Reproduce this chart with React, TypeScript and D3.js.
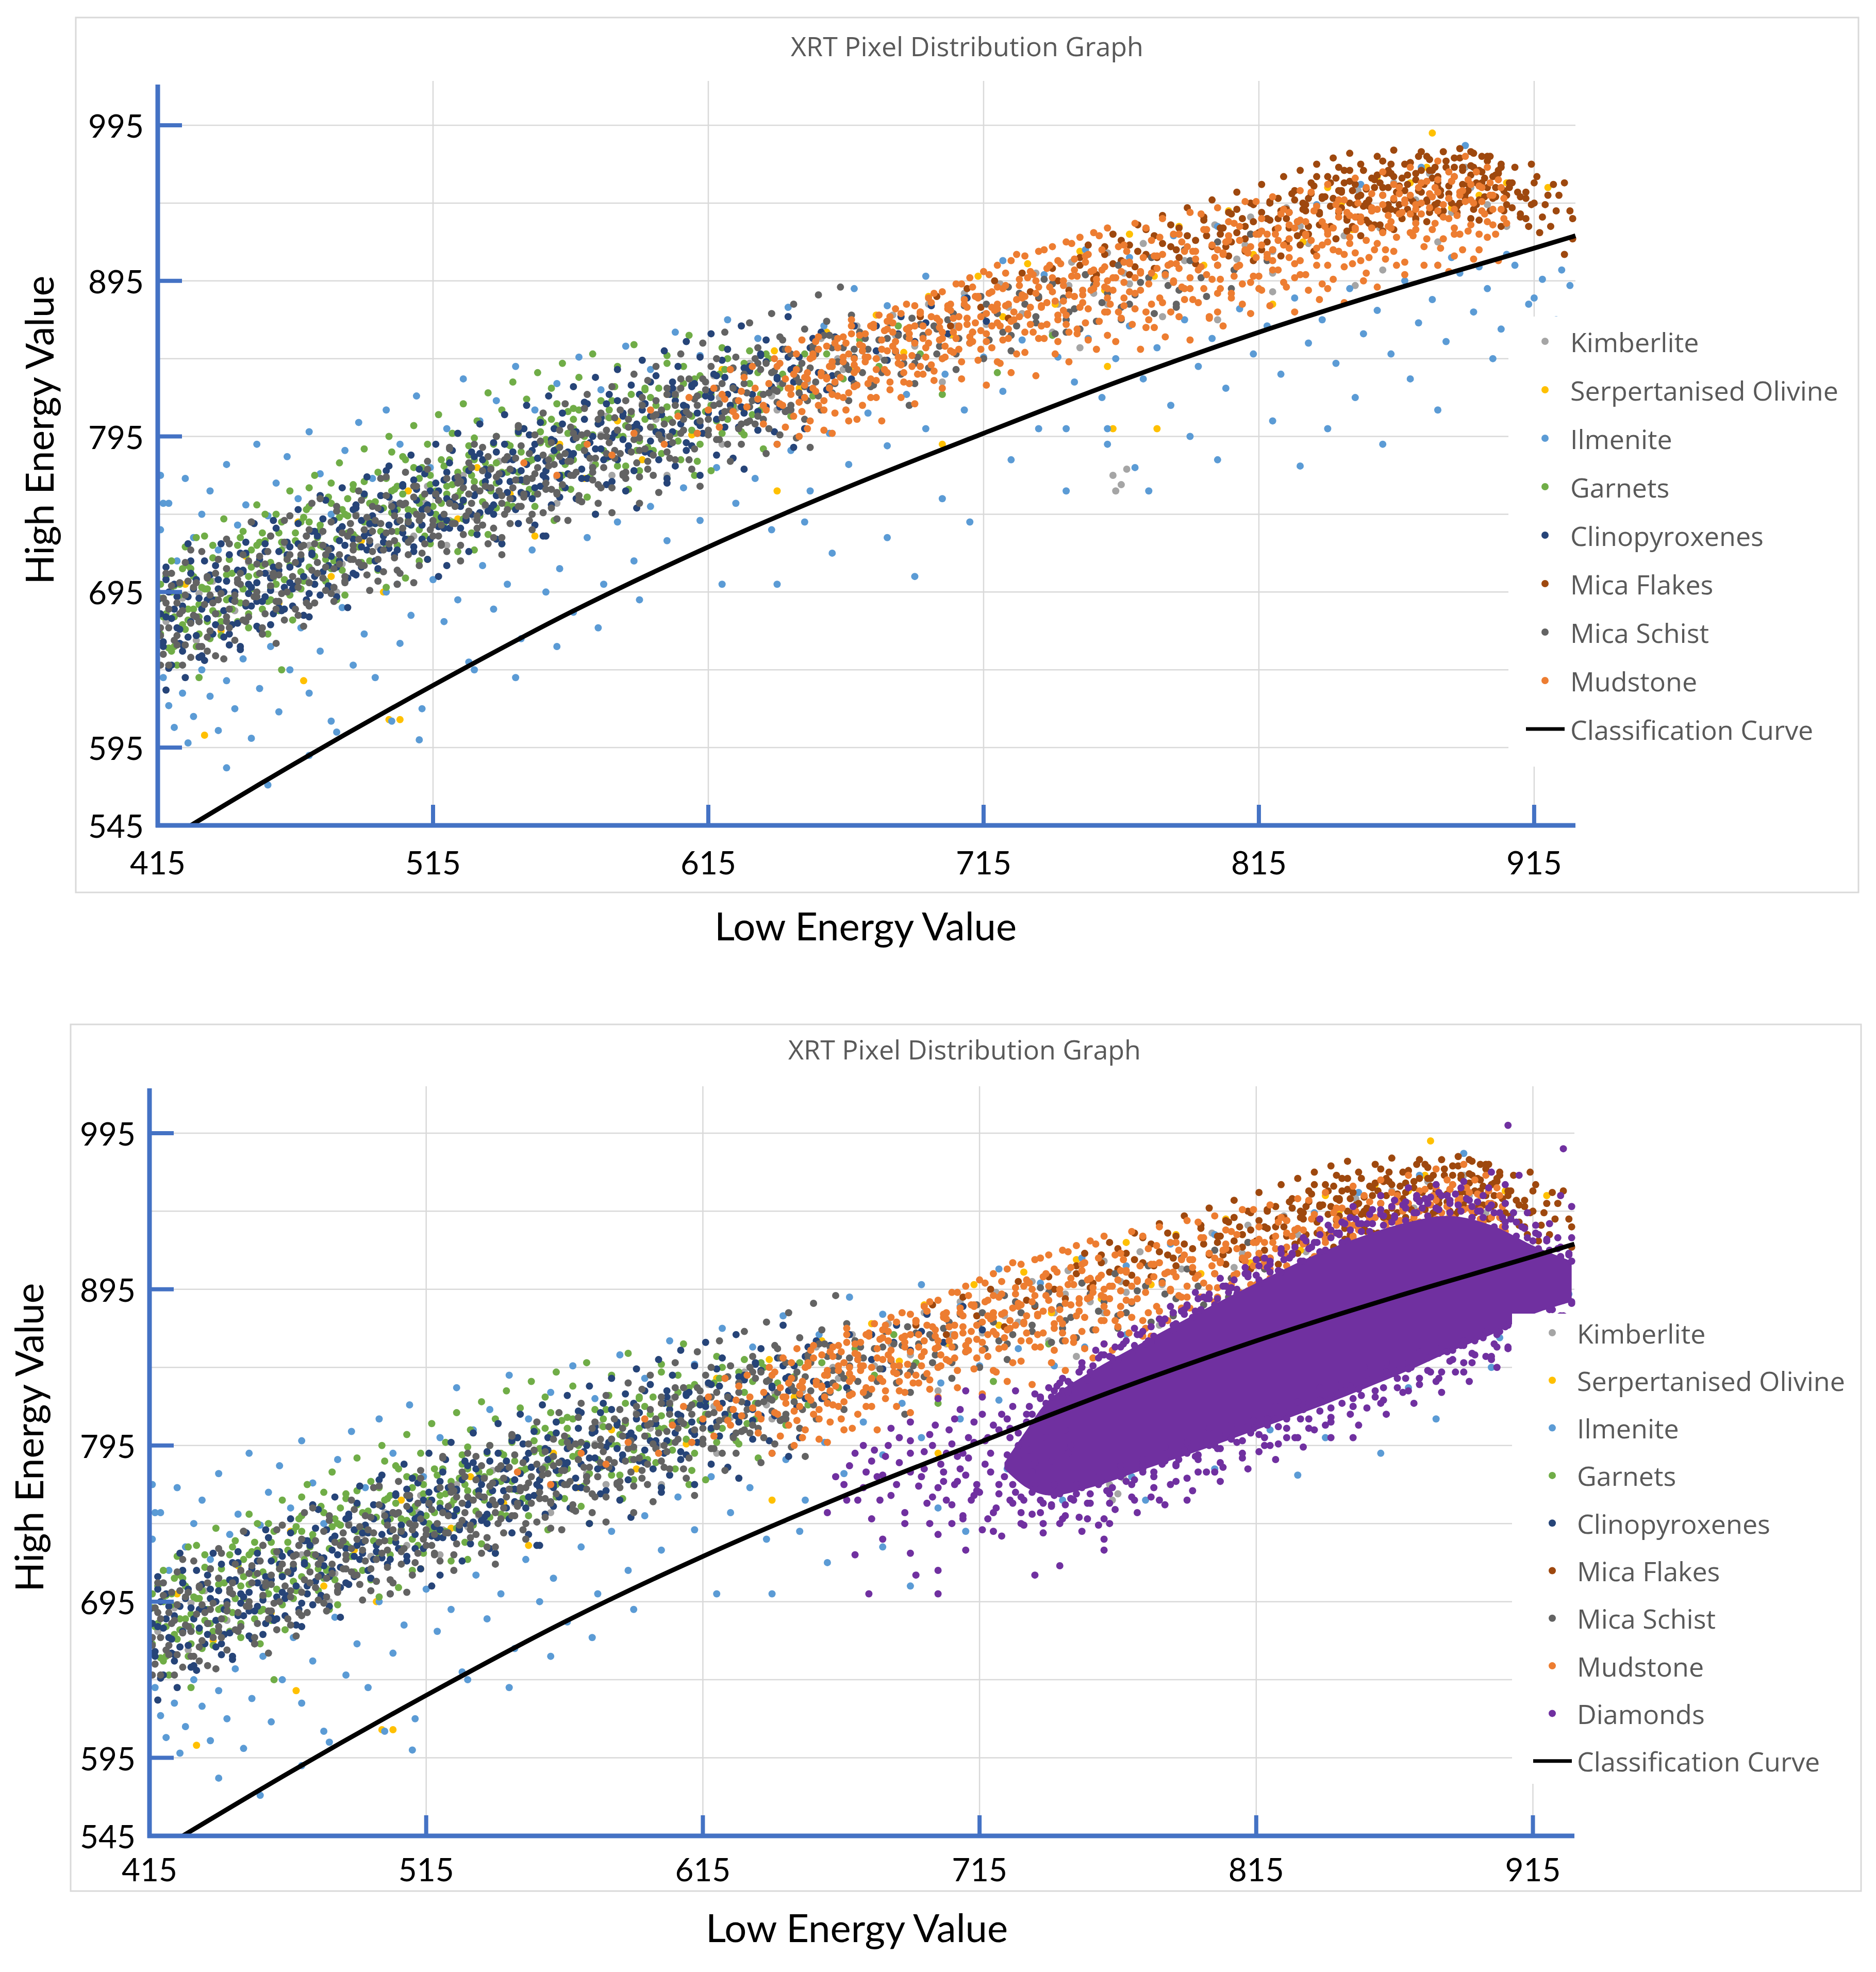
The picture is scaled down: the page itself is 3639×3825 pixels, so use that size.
import * as d3 from "d3";

// Axis ticks and gridlines
const X_TICKS = [415, 515, 615, 715, 815, 915];
const Y_TICKS = [545, 595, 695, 795, 895, 995];
const X_GRID = [515, 615, 715, 815, 915];
const Y_GRID = [595, 645, 695, 745, 795, 845, 895, 945, 995];

// Classification curve
const CURVE_X = [427, 465, 515, 565, 615, 665, 715, 765, 815, 865, 915, 930];
const CURVE_Y = [545, 585, 635, 682, 724, 762, 797, 831, 862, 890, 916, 924];

// Scatter series, flat [low, high, low, high, ...]
const KIMBERLITE = [
  418,676, 424,691, 429,664, 435,702, 443,683, 448,714, 456,690, 461,725, 469,703, 474,733, 482,713, 487,745, 495,724, 500,752,
  508,731, 513,763, 521,741, 526,770, 534,750, 539,779, 547,758, 552,790, 560,769, 565,798, 573,777, 578,808, 586,786, 591,816,
  599,795, 604,825, 612,804, 617,834, 625,813, 630,842, 638,821, 643,851, 651,830, 656,858, 664,838, 669,866, 677,846, 682,873,
  690,853, 695,880, 703,860, 708,887, 716,867, 721,893, 729,874, 734,900, 742,880, 747,907, 755,887, 760,913, 768,893, 773,919,
  781,898, 786,925, 794,904, 799,931, 807,909, 812,936, 820,914, 825,942, 833,919, 838,948, 846,924, 851,953, 859,929, 864,958,
  872,934, 877,964, 885,939, 890,968, 898,944, 762,770, 765,764, 767,774, 763,760, 600,770, 650,800, 700,830, 750,852, 800,870,
  850,892, 880,905, 560,752, 520,725, 480,695, 700,845, 740,862, 780,872, 820,888, 860,902, 620,790,
  430,694, 455,707, 470,725, 492,738, 512,752, 530,743, 558,782, 576,796, 596,806, 619,820, 641,829, 662,845, 683,860, 705,866,
  724,878, 746,892, 766,900, 788,908, 810,918, 830,930, 852,936, 872,947, 892,955, 905,930, 640,812, 700,858, 760,880, 820,900,
  880,920, 580,770,
];

const OLIVINE = [
  425,700, 438,670, 447,718, 459,688, 466,740, 478,705, 489,728, 497,695, 506,760, 513,716, 524,742, 531,775, 543,758, 552,731,
  561,790, 570,768, 582,805, 591,780, 600,822, 609,796, 620,838, 628,812, 639,850, 648,826, 658,862, 667,838, 676,873, 686,849,
  695,885, 704,860, 713,898, 722,872, 731,906, 741,880, 750,914, 759,889, 768,925, 777,898, 786,930, 795,905, 804,940, 813,912,
  822,948, 831,920, 840,955, 849,928, 858,962, 867,935, 876,968, 885,942, 878,990, 895,950, 905,958, 920,955, 499,613, 503,613,
  468,638, 432,603, 762,800, 778,800, 640,760, 700,790, 820,880, 760,840, 810,930, 845,945, 870,958,
];

const ILMENITE = [
  416,735, 416,770, 417,752, 419,752, 422,715, 425,768, 428,730, 431,745, 434,760, 437,722, 440,777, 444,738, 447,751, 451,790,
  455,744, 458,765, 462,782, 466,755, 470,798, 474,771, 478,745, 483,786, 488,804, 493,768, 498,812, 503,790, 509,821, 514,775,
  520,800, 526,832, 532,805, 538,818, 545,840, 552,812, 560,829, 568,846, 576,825, 585,853, 594,838, 603,862, 612,847, 622,870,
  633,858, 644,878, 657,866, 668,890, 680,879, 694,898, 708,884, 722,908, 737,899, 752,915, 768,910, 784,924, 800,930, 818,935,
  836,944, 852,957, 874,968, 890,982,
  417,640, 419,622, 421,608, 424,630, 426,598, 428,615, 431,645, 434,628, 437,606, 440,638, 443,620, 446,652, 449,601, 452,633,
  456,660, 459,618, 463,645, 467,672, 470,630, 474,657, 478,612, 482,685, 486,648, 490,668, 494,640, 498,695, 503,662, 507,680,
  511,620, 515,703, 519,676, 524,690, 528,650, 533,712, 537,684, 542,700, 547,665, 551,722, 556,695, 561,710, 566,682, 571,730,
  577,700, 582,740, 588,715, 594,750, 600,728, 606,762, 612,741, 618,775, 625,752, 632,768, 638,735, 645,786, 652,760, 659,797,
  666,777, 673,810, 680,789, 687,822, 694,800, 701,835, 708,812, 715,846, 722,824, 729,857,
  500,612, 470,590, 440,582, 455,571, 530,645, 560,660, 590,690, 620,700, 575,672, 650,740, 680,730, 700,755, 725,780, 745,760,
  660,720, 690,705, 710,740, 735,800, 760,790, 640,700, 545,640, 510,600, 480,605,
  742,846, 748,830, 753,858, 758,820, 763,845, 768,866, 773,832, 778,852, 783,815, 788,870, 793,840, 798,858, 803,826, 808,877,
  813,848, 818,866, 823,835, 828,884, 833,855, 838,870, 843,842, 848,890, 853,861, 858,876, 863,848, 868,895, 873,868, 878,883,
  883,856, 888,900, 893,875, 898,890, 903,864, 908,905, 913,880, 918,896, 923,870, 928,892, 905,912, 915,884, 925,902, 895,904,
  885,910, 760,800, 790,795, 820,805, 850,820, 870,832, 880,812, 840,800, 800,780, 770,775, 860,790, 900,845, 920,857, 830,776,
  775,760, 745,800,
];

const GARNETS = [
  416,668, 417,691, 418,705, 420,657, 421,679, 423,700, 425,671, 426,712, 428,684, 429,660, 431,698, 433,676, 435,717, 436,690,
  438,667, 440,706, 442,684, 444,725, 446,697, 448,681, 449,722, 451,706, 453,733, 455,689, 456,714, 458,700, 460,740, 462,718,
  463,693, 465,728, 467,708, 469,748, 471,722, 472,700, 474,735, 476,716, 478,752, 480,729, 482,709, 484,744, 486,761, 488,724,
  490,740, 492,715, 494,753, 496,734, 498,768, 500,746, 502,725, 504,758, 506,739, 508,775, 510,752, 512,731, 514,764, 516,745,
  518,780, 520,758, 522,740, 524,772, 526,753, 528,789, 530,766, 532,744, 534,778, 536,760, 538,795, 540,772, 542,751, 544,785,
  546,767, 548,800, 550,779, 552,758, 554,791, 556,773, 558,806, 560,784, 562,762, 564,797, 566,780, 568,812, 570,790, 572,769,
  575,803, 577,786, 580,818, 582,796, 585,776, 587,809, 590,792, 592,825, 595,801, 598,784, 600,814, 603,797, 606,829, 609,808,
  612,790, 615,822, 618,805, 621,838, 624,815, 627,798, 630,829, 634,812, 637,845, 641,826, 645,808, 648,839, 653,821, 658,848,
  664,832, 670,857, 677,840, 684,866, 692,848, 430,640, 455,668, 480,690, 505,704, 530,722, 460,645, 610,770, 700,822, 740,860,
  720,836, 470,762, 500,785, 560,816, 600,842,
  417,679, 420,695, 424,674, 427,710, 430,687, 434,702, 437,681, 441,716, 445,688, 448,705, 452,727, 456,698, 459,733, 463,712,
  467,697, 470,740, 474,725, 478,710, 482,748, 486,732, 490,757, 494,739, 498,725, 502,763, 506,748, 510,735, 514,770, 518,752,
  522,764, 526,742, 530,780, 534,763, 538,749, 542,790, 546,772, 550,761, 554,798, 558,781, 562,770, 566,806, 570,786, 574,777,
  579,812, 584,795, 589,786, 594,820, 599,806, 604,792, 610,832, 616,815, 622,806, 628,842, 634,822, 642,835, 650,848, 660,840,
  416,700, 418,681, 420,715, 421,660, 423,693, 425,724, 426,677, 428,705, 430,668, 432,731, 433,697, 435,683, 437,716, 439,742,
  440,690, 442,707, 444,676, 446,734, 447,719, 449,697, 451,751, 453,712, 454,728, 456,690, 458,745, 460,722, 461,703, 463,760,
  465,733, 467,717, 468,743, 470,711, 472,770, 474,738, 475,724, 477,756, 479,716, 481,778, 483,745, 484,733, 486,764, 488,724,
  490,787, 492,752, 493,741, 495,772, 497,733, 499,795, 501,761, 502,748, 504,782, 506,741, 508,802, 510,768, 511,756, 513,790,
  515,750, 517,809, 519,776, 520,763, 522,797, 524,757, 526,816, 528,783, 529,770, 531,805, 533,765, 535,823, 537,790, 538,778,
  540,812, 542,772, 544,830, 546,797, 547,785, 549,819, 551,780, 553,836, 555,804, 556,793, 558,826, 560,787, 562,842, 564,811,
  566,800, 568,833, 570,795, 573,848, 576,818, 579,807, 582,840, 585,802, 588,854, 592,826, 596,815, 600,847, 604,810, 608,860,
  612,834, 616,822, 620,852,
  416,691, 419,659, 421,699, 422,648, 424,710, 426,684, 429,730, 430,679, 432,697, 434,665, 435,725, 438,676, 440,710, 441,691,
  443,690, 445,730, 448,672, 449,711, 451,725, 453,684, 454,745, 457,704, 459,683, 460,727, 462,716, 464,677, 467,740, 468,702,
  470,750, 472,718, 473,730, 476,702, 478,765, 479,715, 481,743, 483,693, 484,755, 487,730, 489,714, 490,766, 492,741, 495,709,
  497,749, 498,698, 500,760, 502,734, 505,780, 506,729, 508,747, 510,715, 511,775, 514,726, 516,760, 517,741, 519,739, 521,780,
  524,721, 525,760, 527,774, 529,733, 530,794, 533,753, 535,732, 536,775, 538,765, 540,726, 543,789, 544,750, 546,799, 548,766,
  549,779, 552,750, 554,806, 555,763, 557,790, 559,741, 560,802, 563,777, 565,761, 566,813, 568,788, 571,756, 573,796, 574,745,
  576,807, 578,781, 581,827, 582,776, 584,794, 586,761, 587,822, 590,773, 592,806, 593,788, 595,786, 597,826, 600,768, 601,806,
  603,821, 605,780, 606,840, 609,799, 611,779, 612,822, 614,811, 616,773, 619,835, 620,797, 622,845, 624,812, 625,825, 628,796,
  630,850, 631,809, 633,836, 635,787, 636,848,
];

const CLINOPYROXENES = [
  416,681, 417,660, 419,695, 420,648, 422,672, 424,686, 425,640, 426,666, 428,697, 430,676, 431,654, 433,690, 435,668, 437,703,
  439,683, 441,661, 443,695, 446,709, 447,686, 449,698, 451,673, 452,716, 454,692, 456,704, 457,681, 459,721, 461,698, 463,711,
  464,686, 466,726, 468,705, 470,694, 471,719, 473,731, 475,708, 477,698, 478,723, 480,711, 482,737, 484,717, 486,729, 487,706,
  489,741, 491,722, 492,733, 494,715, 496,748, 497,727, 499,738, 501,719, 503,752, 504,733, 506,744, 508,724, 509,761, 511,738,
  513,751, 514,729, 516,765, 518,743, 520,755, 521,736, 523,768, 525,750, 527,741, 528,773, 530,757, 532,746, 533,780, 535,762,
  537,751, 538,729, 540,771, 542,759, 544,785, 545,748, 547,767, 549,777, 551,755, 552,790, 554,763, 556,773, 558,751, 559,786,
  561,770, 563,762, 565,781, 567,797, 569,768, 571,783, 573,775, 575,803, 576,787, 578,764, 580,794, 582,780, 584,808, 586,789,
  588,773, 590,800, 592,816, 594,784, 596,798, 598,809, 601,790, 603,818, 605,803, 607,786, 609,827, 611,810, 613,797, 616,820,
  618,806, 621,833, 623,815, 626,801, 628,839, 631,822, 633,811, 636,843, 638,826, 641,814, 644,846, 646,830, 649,820, 652,852,
  655,836, 658,825, 661,859, 664,843, 667,832, 671,850, 676,866, 680,844, 685,872, 690,856, 696,879, 702,861, 709,884, 716,869,
  418,632, 445,660, 470,679, 520,712, 555,731, 600,768, 650,800,
  415,670, 418,703, 421,684, 424,661, 427,707, 430,691, 433,678, 436,712, 439,695, 442,674, 445,720, 448,700, 451,689, 454,726,
  457,711, 460,683, 463,724, 466,713, 469,731, 472,700, 475,742, 478,718, 481,728, 484,704, 487,749, 490,731, 493,744, 496,722,
  499,756, 502,740, 505,729, 508,767, 511,748, 514,760, 517,737, 520,772, 523,751, 526,766, 529,745, 532,784, 535,770, 538,757,
  541,790, 544,773, 547,759, 550,796, 553,781, 556,768, 559,800, 562,779, 566,793, 570,806, 574,787, 578,816, 582,799, 586,786,
  590,822, 594,808, 598,795, 602,830, 607,814, 612,802, 617,835, 622,822, 628,810, 634,848, 640,832, 646,839, 653,858, 660,834,
  668,866, 676,850, 684,861, 694,868,
  415,690, 416,662, 418,679, 419,646, 421,700, 423,671, 424,657, 426,692, 427,715, 429,667, 431,684, 432,651, 434,706, 436,681,
  437,697, 439,666, 441,719, 442,690, 444,675, 446,708, 447,727, 449,686, 451,701, 452,671, 454,721, 456,696, 457,741, 459,709,
  461,684, 462,727, 464,697, 466,748, 467,716, 469,690, 471,734, 472,705, 474,757, 476,724, 477,699, 479,741, 481,715, 482,762,
  484,731, 486,707, 487,751, 489,724, 491,769, 492,739, 494,715, 496,757, 497,731, 499,776, 501,747, 502,722, 504,764, 506,739,
  507,783, 509,754, 511,729, 512,771, 514,746, 516,790, 517,760, 519,736, 521,778, 522,753, 524,797, 526,767, 527,742, 529,785,
  531,760, 532,803, 534,774, 536,749, 537,791, 539,766, 541,809, 542,780, 544,755, 546,798, 547,773, 549,815, 551,786, 552,762,
  554,804, 556,779, 557,821, 559,792, 561,768, 562,810, 564,785, 566,827, 567,798, 569,774, 571,816, 572,791, 574,833, 576,804,
  577,780, 579,822, 581,797, 582,838, 584,810, 586,786, 587,828, 589,803, 591,844, 592,816, 594,792, 596,834, 597,809, 599,850,
  601,822, 602,798, 604,840, 606,815, 607,856, 609,828, 611,804, 612,846, 614,821, 616,861, 618,834, 620,810, 622,851, 624,827,
  627,866, 630,840, 633,818, 636,857, 640,833, 644,872, 648,846, 652,825, 656,862,
  417,663, 418,711, 420,678, 422,692, 423,662, 426,726, 427,676, 429,703, 430,653, 432,715, 435,690, 436,674, 438,726, 440,702,
  441,668, 444,709, 445,658, 447,720, 448,694, 450,739, 453,689, 454,707, 456,674, 458,736, 459,685, 462,719, 463,701, 465,699,
  466,739, 468,680, 471,720, 472,734, 474,693, 476,754, 477,712, 480,692, 481,735, 483,725, 484,685, 486,748, 489,711, 490,758,
  492,726, 494,739, 495,710, 498,773, 499,723, 501,751, 502,700, 504,763, 507,738, 508,721, 510,774, 512,749, 513,716, 516,757,
  517,705, 519,767, 520,741, 522,786, 525,736, 526,754, 528,721, 530,782, 531,732, 534,766, 535,747, 537,745, 538,785, 540,726,
  543,766, 544,780, 546,739, 548,800, 549,758, 552,738, 553,781, 555,770, 556,731, 558,793, 561,756, 562,803, 564,771, 566,784,
  567,755, 570,817, 571,768, 573,795, 574,745, 576,807, 579,782, 580,766, 582,818, 584,793, 585,760, 588,801, 589,749, 591,812,
  592,785, 594,830, 597,780, 598,798, 600,765, 602,826, 603,776, 606,810, 607,791, 609,789, 610,829, 612,770, 615,810, 616,824,
  618,783, 620,844, 621,801, 624,781, 625,825, 627,814, 628,774, 630,837, 633,799, 634,847, 636,814, 638,827, 639,798, 642,851,
  643,811, 645,838, 646,788,
];

const MICA_FLAKES = [
  692,872, 698,885, 703,866, 709,890, 714,878, 719,895, 724,871, 729,900, 735,884, 740,903, 746,889, 750,910, 755,896, 759,917,
  762,906, 765,921, 768,899, 771,914, 774,928, 777,903, 780,919, 783,931, 786,910, 789,924, 792,906, 795,936, 798,917, 801,929,
  804,911, 807,941, 810,922, 813,933, 816,915, 819,945, 821,928, 823,940, 825,919, 827,951, 829,933, 831,945, 833,925, 835,956,
  837,938, 839,949, 841,930, 843,961, 845,942, 847,927, 849,953, 851,936, 853,966, 855,947, 857,931, 859,958, 861,941, 863,970,
  865,952, 867,935, 869,963, 871,946, 873,975, 875,957, 877,939, 879,968, 881,950, 883,972, 885,959, 887,943, 889,966, 891,953,
  893,977, 895,947, 897,961, 899,940, 901,955, 903,968, 905,944, 907,958, 842,948, 846,958, 850,944, 854,934, 858,963, 862,955,
  866,944, 870,971, 874,952, 878,961, 882,940, 886,968, 890,948, 894,958, 898,972, 852,950, 860,927, 868,953, 876,933, 884,951,
  892,935, 900,962, 848,966, 872,964, 888,974, 856,940, 864,962, 880,945, 910,949, 912,935, 915,958, 917,926, 919,944, 921,930,
  924,950, 926,912, 928,940, 929,922, 922,957, 914,970, 825,935, 829,924, 833,948, 837,931, 841,943, 845,952, 849,930, 853,943,
  857,955, 861,964, 865,940, 869,957, 873,944, 877,966, 881,953, 885,945, 889,957, 893,968, 897,949, 901,963, 836,962, 844,968,
  860,972, 876,975, 892,963, 904,953, 832,940, 848,945, 864,947, 880,958, 896,965, 812,925, 818,935, 805,920, 796,924, 785,915,
  778,910, 770,904, 742,895, 732,888,
  750,905, 753,918, 756,899, 759,912, 762,925, 765,908, 768,918, 771,931, 774,912, 777,924, 780,937, 783,917, 786,929, 789,942,
  792,921, 795,934, 798,947, 801,925, 804,939, 807,952, 810,930, 813,944, 816,957, 819,934, 822,948, 824,962, 826,939, 828,953,
  830,966, 832,944, 834,958, 836,970, 838,949, 840,962, 842,974, 844,953, 846,966, 848,977, 850,957, 852,970, 854,945, 856,961,
  858,975, 860,950, 862,966, 864,979, 866,956, 868,970, 870,948, 872,960, 874,978, 876,946, 878,966, 880,955, 882,978, 884,948,
  886,962, 888,980, 890,951, 892,969, 894,944, 896,958, 898,975, 900,948, 902,964, 904,940, 906,955, 908,968, 910,938, 912,952,
  914,944, 916,962, 918,936, 920,950, 923,940, 926,958, 929,935, 831,926, 847,936, 863,941, 879,944, 895,934, 839,930, 855,932,
  871,938, 887,939, 903,930,
  800,905, 802,929, 803,917, 805,938, 806,902, 807,926, 809,935, 810,914, 812,945, 813,908, 815,926, 816,939, 818,920, 819,946,
  820,915, 822,935, 823,911, 825,941, 826,929, 828,947, 830,918, 831,941, 833,930, 834,951, 835,914, 837,939, 838,948, 840,928,
  841,958, 843,922, 844,939, 845,953, 847,934, 848,959, 849,929, 851,949, 852,924, 854,954, 855,943, 857,960, 859,931, 860,955,
  862,944, 863,964, 864,928, 866,953, 867,961, 869,941, 870,971, 872,935, 873,953, 874,966, 876,947, 877,973, 878,942, 880,962,
  881,938, 883,968, 884,956, 886,974, 888,945, 889,968, 891,957, 892,978, 893,941, 895,966, 896,975, 898,955, 899,975, 901,949,
  902,966, 903,970, 905,950, 906,958, 907,942, 909,952, 910,936, 912,948, 913,930, 915,945,
];

const MICA_SCHIST = [
  416,672, 418,688, 417,655, 420,699, 421,664, 423,681, 425,693, 424,648, 427,675, 429,701, 430,660, 432,687, 434,670, 433,705,
  436,681, 438,694, 439,652, 441,672, 440,710, 443,689, 445,700, 447,676, 448,715, 450,692, 452,707, 453,668, 455,721, 456,699,
  458,684, 459,712, 461,727, 462,695, 464,705, 466,680, 467,719, 469,731, 470,701, 472,688, 473,714, 475,725, 476,696, 478,740,
  479,710, 481,719, 483,705, 484,731, 486,722, 487,744, 489,712, 490,735, 492,728, 493,750, 495,716, 496,739, 498,757, 499,726,
  501,744, 502,709, 504,736, 505,752, 507,729, 508,763, 510,741, 511,720, 513,748, 514,735, 516,758, 517,731, 519,745, 520,768,
  522,739, 523,756, 525,725, 526,762, 528,747, 529,775, 531,741, 532,760, 534,751, 535,782, 537,736, 538,769, 540,757, 541,745,
  543,774, 544,762, 546,750, 547,789, 549,766, 550,741, 552,771, 553,758, 555,783, 556,765, 558,749, 559,777, 561,788, 562,764,
  564,779, 565,801, 567,772, 568,754, 570,786, 571,797, 573,767, 574,781, 576,810, 577,775, 579,791, 580,762, 582,799, 583,784,
  585,772, 586,806, 588,793, 589,778, 591,815, 592,787, 594,801, 595,770, 597,796, 598,812, 600,785, 602,804, 603,822, 605,797,
  607,811, 608,780, 610,819, 612,805, 613,832, 615,796, 617,815, 618,826, 620,807, 622,790, 623,838, 625,818, 627,803, 628,829,
  630,814, 632,845, 633,808, 635,822, 637,800, 638,836, 640,817, 642,829, 643,851, 645,812, 647,833, 648,823, 650,806, 652,839,
  654,848, 655,821, 657,835, 659,860, 661,829, 662,843, 664,852, 666,818, 668,846, 670,862, 671,836, 673,851, 675,828, 677,857,
  679,844, 681,868, 683,849, 685,835, 687,859, 689,871, 691,846, 693,860, 695,839, 697,866, 699,853, 702,870, 705,848, 708,879,
  711,862, 714,885, 717,857, 720,874, 724,891, 727,866, 730,880, 734,872, 737,896, 741,861, 744,884, 748,877, 752,899, 756,869,
  760,887, 764,905, 768,880, 772,894, 777,874, 781,900, 786,889, 790,908, 796,885, 458,662, 502,700, 540,730, 590,752, 640,790,
  688,815,
  419,684, 422,667, 426,702, 429,679, 433,657, 437,690, 440,676, 444,703, 447,688, 451,713, 454,681, 457,707, 460,694, 463,719,
  466,702, 469,688, 472,726, 476,711, 479,698, 482,733, 485,716, 488,729, 491,706, 494,741, 497,722, 500,734, 503,752, 506,719,
  509,745, 512,758, 515,738, 518,726, 521,752, 524,769, 527,744, 530,762, 533,738, 536,774, 539,760, 542,748, 545,781, 548,756,
  551,768, 554,792, 557,776, 560,758, 563,784, 566,770, 569,796, 572,781, 575,764, 578,799, 581,786, 584,771, 587,811, 590,794,
  593,779, 596,818, 599,803, 602,791, 605,826, 608,809, 611,797, 614,830, 619,816, 624,826, 629,804, 634,838, 639,825, 644,812,
  649,842, 654,830, 660,852, 666,838, 672,858, 678,836, 684,860, 690,842, 698,864, 706,858, 715,873, 725,860, 735,885, 745,870,
  755,892, 765,878, 775,897, 785,880,
  416,648, 417,691, 419,672, 420,707, 422,661, 424,683, 425,714, 427,653, 428,698, 430,676, 431,721, 433,666, 435,688, 436,707,
  438,672, 440,729, 441,684, 443,664, 444,701, 446,719, 448,679, 449,740, 451,695, 453,672, 454,713, 456,731, 458,689, 459,706,
  461,677, 463,744, 465,714, 466,698, 468,725, 470,686, 471,752, 473,707, 475,734, 476,719, 478,694, 480,747, 481,713, 483,702,
  485,739, 486,725, 488,760, 490,712, 491,743, 493,721, 495,702, 496,768, 498,733, 500,750, 501,717, 503,741, 505,772, 506,727,
  508,756, 510,712, 511,744, 513,779, 515,731, 516,758, 518,738, 520,721, 521,787, 523,750, 525,766, 526,732, 528,758, 530,790,
  531,744, 533,773, 535,726, 536,762, 538,795, 540,752, 541,780, 543,739, 545,767, 546,802, 548,758, 550,784, 551,745, 553,775,
  555,810, 556,761, 558,791, 560,742, 561,782, 563,816, 565,770, 566,797, 568,757, 570,786, 571,822, 573,775, 575,806, 576,762,
  578,795, 580,827, 581,781, 583,812, 585,768, 586,801, 588,835, 590,786, 591,820, 593,774, 595,808, 596,840, 598,793, 600,826,
  601,781, 603,815, 605,848, 606,799, 608,832, 610,787, 611,821, 613,855, 615,806, 616,840, 618,793, 620,829, 621,862, 623,812,
  625,846, 626,800, 628,835, 630,868, 631,818, 633,852, 635,806, 636,842, 638,874, 640,824, 641,859, 643,811, 645,848, 646,880,
  648,830, 650,864, 651,818, 653,853, 655,886, 656,836, 658,869, 660,823, 661,858, 663,891, 665,841, 667,873, 668,829, 670,862,
  662,835, 668,851, 674,827, 680,858, 686,842, 692,867, 698,848, 704,874, 710,855, 716,880, 722,862, 728,887, 734,868, 740,893,
  746,875, 752,899, 758,881, 764,905, 770,886, 776,910, 782,892, 788,915, 794,897, 800,920, 806,902, 812,925, 818,908, 705,838,
  725,850, 745,862, 765,870, 785,878, 805,890, 690,829, 715,845, 750,864,
  416,667, 418,707, 419,648, 422,688, 423,701, 425,661, 427,722, 428,680, 431,660, 433,704, 434,693, 436,654, 437,716, 440,679,
  441,726, 443,693, 445,707, 446,677, 449,740, 451,692, 452,718, 453,668, 456,731, 457,705, 459,689, 461,741, 462,716, 465,684,
  467,724, 468,673, 470,735, 471,709, 474,755, 475,704, 477,722, 479,689, 480,750, 483,701, 485,734, 486,716, 488,714, 489,754,
  492,696, 493,734, 495,749, 497,708, 498,769, 501,728, 503,707, 504,751, 506,740, 508,701, 509,763, 512,726, 513,774, 515,741,
  517,754, 518,725, 521,788, 523,739, 524,765, 525,715, 528,778, 529,752, 531,736, 533,788, 534,763, 537,730, 539,771, 540,719,
  542,782, 543,755, 546,801, 547,750, 549,768, 551,735, 552,796, 555,746, 557,780, 558,761, 560,759, 561,799, 564,741, 565,779,
  567,794, 569,753, 570,813, 573,772, 575,752, 576,795, 578,784, 580,746, 581,807, 584,770, 585,818, 587,785, 589,798, 590,769,
  593,831, 595,783, 596,809, 597,759, 600,822, 601,795, 603,780, 605,832, 606,806, 609,774, 611,815, 612,763, 614,825, 615,799,
  618,845, 619,793, 621,811, 623,779, 624,839, 627,790, 629,823, 630,805, 632,803, 633,842, 636,784, 637,823, 639,837, 641,796,
  642,857, 645,815, 647,794, 648,838, 650,827, 652,788, 653,850, 656,812, 657,860, 659,827,
];

const MUDSTONE = [
  548,778, 560,770, 571,790, 580,783, 588,797, 594,812, 599,790, 604,808, 608,820, 611,797, 615,812, 617,826, 619,801, 621,819,
  623,838, 625,808, 627,824, 629,814, 631,840, 633,819, 635,803, 637,829, 639,845, 641,816, 643,832, 645,822, 647,848, 649,811,
  651,836, 653,826, 655,851, 657,818, 659,840, 661,830, 662,852, 664,843, 666,823, 667,861, 669,838, 671,850, 673,829, 674,866,
  676,845, 678,857, 680,836, 681,872, 683,850, 685,841, 687,864, 688,829, 690,855, 692,875, 694,846, 695,862, 697,837, 699,869,
  701,853, 703,880, 705,858, 707,843, 709,871, 711,862, 713,885, 714,851, 716,874, 718,866, 720,891, 722,857, 723,879, 725,869,
  727,848, 729,886, 731,873, 733,862, 734,895, 736,879, 738,867, 740,888, 742,856, 744,882, 745,873, 747,898, 749,864, 751,886,
  753,877, 755,902, 757,869, 759,891, 761,880, 763,897, 765,871, 766,907, 768,888, 770,877, 772,900, 774,865, 775,893, 777,911,
  779,884, 781,899, 783,875, 785,906, 787,891, 789,917, 791,883, 793,902, 795,890, 797,872, 799,910, 801,896, 803,920, 805,887,
  807,904, 809,893, 811,913, 813,898, 815,925, 816,889, 818,910, 820,902, 822,929, 824,894, 826,916, 828,906, 830,934, 832,899,
  834,921, 836,911, 838,893, 840,927, 842,915, 844,940, 846,904, 848,923, 850,913, 852,936, 854,900, 856,929, 858,919, 860,944,
  861,915, 863,933, 865,923, 866,951, 868,907, 870,938, 872,928, 873,955, 875,917, 877,942, 879,932, 880,960, 882,922, 884,948,
  886,911, 887,937, 889,953, 891,927, 893,945, 895,915, 897,938, 899,950, 901,925, 903,941, 668,845, 693,858, 718,878, 742,870,
  766,894, 790,897, 814,910, 838,918, 862,930, 886,941, 706,866, 730,862, 754,889, 778,903, 802,912, 826,922, 850,928, 874,945,
  898,933, 682,862, 658,833, 635,815, 700,845, 760,875, 820,915, 720,843, 760,860, 800,875, 840,890, 880,905,
  620,822, 624,811, 628,833, 632,826, 636,812, 640,840, 644,826, 648,817, 652,845, 656,834, 660,822, 664,859, 668,836, 672,846,
  676,831, 680,864, 684,846, 688,858, 692,840, 696,872, 700,858, 704,849, 708,883, 712,868, 716,856, 720,880, 724,864, 728,892,
  732,878, 736,866, 740,897, 744,876, 748,885, 752,868, 756,896, 760,884, 764,875, 768,906, 772,889, 776,880, 780,912, 784,894,
  788,883, 792,914, 796,899, 800,887, 804,921, 808,905, 812,894, 816,927, 820,908, 824,918, 828,897, 832,933, 836,916, 840,905,
  844,936, 848,919, 852,908, 856,942, 860,926, 864,914, 868,947, 872,932, 876,922, 880,952, 884,935, 888,925, 892,957, 896,940,
  900,931, 904,948, 626,818, 646,835, 666,848, 686,836, 706,872, 726,875, 746,862, 766,884, 786,903, 806,898, 826,931, 846,912,
  866,938, 886,929, 650,828, 670,854, 690,866, 710,859, 730,885, 750,878, 770,897, 790,890, 810,915, 830,908, 850,936, 870,926,
  890,946, 735,858, 775,870, 815,890, 855,910, 895,925, 800,905, 840,925, 880,940, 720,868, 760,890, 700,862, 680,850, 660,840,
  640,790, 641,842, 642,815, 643,801, 644,851, 645,826, 646,808, 647,838, 648,795, 649,857, 650,820, 651,832, 652,805, 653,848,
  654,856, 655,815, 656,836, 657,799, 658,853, 659,826, 660,843, 661,810, 662,858, 663,833, 664,820, 665,855, 666,805, 667,866,
  668,841, 669,828, 670,860, 671,815, 672,861, 673,846, 674,832, 675,865, 676,820, 677,873, 678,851, 679,838, 680,869, 681,825,
  682,868, 683,856, 684,842, 685,874, 686,830, 687,880, 688,861, 689,847, 690,879, 691,835, 692,874, 693,866, 694,852, 695,884,
  696,841, 697,887, 698,871, 699,857, 700,888, 701,846, 702,879, 703,876, 704,862, 705,893, 706,851, 707,893, 708,880, 709,867,
  710,897, 711,856, 712,885, 713,884, 714,872, 715,901, 716,861, 717,899, 718,888, 719,876, 720,905, 721,866, 722,890, 723,892,
  724,880, 725,908, 726,870, 727,912, 728,896, 729,884, 730,911, 731,874, 732,901, 733,899, 734,887, 735,914, 736,878, 737,915,
  738,903, 739,891, 740,917, 741,882, 742,908, 743,906, 744,895, 745,920, 746,886, 747,919, 748,909, 749,898, 750,923, 751,889,
  752,911, 753,912, 754,901, 755,926, 756,893, 757,924, 758,915, 759,904, 760,929, 762,897, 764,917, 766,918, 768,907, 770,932,
  772,901, 774,929, 776,921, 778,911, 780,935, 782,905, 784,925, 786,925, 788,914, 790,939, 792,909, 794,938, 796,928, 798,918,
  800,942, 802,913, 804,933, 806,932, 808,921, 810,946, 812,917, 814,946, 816,935, 818,925, 820,949, 822,921, 824,941, 826,939,
  828,929, 830,953, 832,925, 834,952, 836,943, 838,933, 840,957, 842,929, 844,947, 846,947, 848,937, 850,961, 852,933, 854,955,
  856,951, 858,941, 860,965, 862,937, 864,957, 866,955, 868,945, 870,968, 872,941, 874,958, 876,959, 878,949, 880,972, 882,944,
  884,965, 886,962, 888,952, 890,975, 892,947, 894,965, 896,955, 898,968, 900,950, 902,960, 904,935,
  650,833, 651,800, 653,846, 654,824, 655,859, 657,812, 658,832, 660,797, 661,855, 662,821, 664,846, 665,812, 667,870, 668,827,
  669,806, 671,853, 672,843, 674,820, 675,867, 676,838, 678,805, 679,863, 681,830, 682,853, 683,877, 685,820, 686,846, 688,865,
  689,840, 690,816, 692,875, 693,835, 695,855, 696,881, 697,831, 699,865, 700,826, 702,877, 703,850, 704,871, 706,865, 707,832,
  709,878, 710,855, 711,891, 713,844, 714,863, 716,828, 717,887, 718,852, 720,877, 721,842, 723,900, 724,858, 725,836, 727,883,
  728,872, 730,849, 731,897, 732,867, 734,834, 735,891, 737,858, 738,881, 739,905, 741,848, 742,873, 744,892, 745,867, 746,843,
  748,902, 749,861, 751,881, 752,907, 753,857, 755,890, 756,851, 758,902, 759,875, 760,895, 762,889, 763,856, 765,901, 766,879,
  767,914, 769,867, 770,887, 772,851, 773,910, 774,875, 776,900, 777,865, 779,923, 780,881, 781,859, 783,906, 784,895, 786,872,
  787,920, 788,890, 790,857, 791,914, 793,881, 794,904, 795,928, 797,871, 798,896, 800,915, 801,890, 802,866, 804,924, 805,884,
  807,904, 808,930, 809,880, 811,913, 812,874, 814,925, 815,898, 816,918, 818,912, 819,879, 821,925, 822,902, 823,938, 825,891,
  826,910, 828,875, 829,933, 830,899, 832,924, 833,889, 835,940, 836,905, 837,883, 839,930, 840,920, 842,896, 843,944, 844,914,
  846,881, 847,939, 849,906, 850,929, 851,945, 853,895, 854,921, 856,940, 857,915, 858,891, 860,950, 861,909, 863,929, 864,948,
  865,905, 867,939, 868,899, 870,950, 871,924, 872,944, 874,938, 875,905, 877,951, 878,928, 879,955, 881,916, 882,936, 884,901,
  885,959, 886,925, 888,950, 889,915, 891,960, 892,931, 893,909, 895,956, 896,946, 898,923, 899,958, 900,941, 902,908, 903,955,
  905,932,
];

const DIAMONDS = [
  666,770, 668,782, 671,760, 673,795, 676,748, 678,775, 681,788, 683,763, 686,800, 688,752, 690,778, 693,769, 695,791, 697,745,
  699,808, 701,783, 703,760, 705,796, 707,772, 709,750, 711,787, 713,810, 715,765, 717,798, 719,778, 721,755, 723,815, 725,789,
  727,770, 729,803, 731,760, 733,820, 735,784, 737,752, 739,797, 741,812, 743,765, 745,830, 747,790, 749,760, 680,735, 700,738,
  690,726, 720,740, 710,728, 730,745, 745,748, 660,752, 700,715, 688,745,
  740,832, 745,838, 752,848, 757,856, 762,852, 766,866, 771,870, 776,862, 780,876, 784,884, 789,879, 793,893, 798,889, 802,902,
  806,896, 811,909, 815,914, 820,906, 824,921, 828,917, 832,928, 837,925, 841,936, 845,931, 849,941, 853,937, 857,946, 861,942,
  865,952, 869,947, 873,955, 877,950, 881,957, 885,952, 889,960, 893,948, 897,955, 901,944, 905,950, 909,938, 913,944, 917,930,
  921,937, 925,922, 929,928, 760,860, 790,885, 818,915, 846,938, 874,951, 899,960, 905,962, 910,968, 900,970,
  738,758, 742,763, 746,750, 750,770, 754,758, 758,775, 762,764, 766,782, 770,770, 774,786, 778,775, 782,794, 786,782, 790,797,
  794,786, 798,806, 802,793, 806,808, 810,798, 814,811, 818,800, 822,820, 826,806, 830,823, 834,812, 838,832, 842,819, 846,836,
  850,825, 854,845, 858,830, 862,848, 866,838, 870,844, 874,855, 878,842, 882,858, 886,850, 890,862, 894,853, 898,868, 902,858,
  906,872, 910,865, 914,878, 918,870, 922,882, 926,876, 929,886, 760,748, 780,760, 800,778, 820,795, 840,808, 860,822, 880,836,
  900,850, 830,800, 870,830, 890,842, 915,860,
  692,712, 670,725, 700,700, 744,718, 760,735, 906,1000, 926,985, 760,728, 675,700, 735,712, 790,760, 850,800, 925,955, 929,948,
  742,830, 747,836, 751,842, 756,846, 760,853, 764,858, 768,862, 772,866, 777,871, 781,874, 785,880, 790,884, 794,889, 798,892,
  803,897, 807,901, 811,905, 816,910, 820,913, 824,918, 829,922, 833,926, 838,930, 842,933, 847,937, 851,940, 856,943, 860,946,
  864,948, 869,951, 873,953, 878,954, 882,955, 887,956, 891,953, 895,951, 899,947, 903,944, 907,940, 911,935, 916,931, 920,926,
  924,921, 928,917, 745,826, 755,839, 765,850, 775,860, 785,872, 795,882, 805,893, 815,904, 825,914, 835,922, 845,930, 855,937,
  865,942, 875,947, 885,950, 895,945, 905,938, 915,926, 925,916, 880,962, 870,960, 890,964, 860,955, 850,948, 838,940,
  726,760, 730,752, 734,765, 738,745, 742,770, 746,757, 750,764, 754,748, 758,770, 762,758, 766,775, 770,762, 774,780, 778,768,
  782,785, 786,772, 790,790, 794,778, 798,795, 802,784, 806,800, 810,790, 814,806, 818,795, 822,812, 826,800, 830,818, 834,806,
  838,824, 842,813, 846,830, 850,820, 854,836, 858,826, 862,842, 866,832, 870,848, 874,838, 878,852, 882,842, 886,856, 890,848,
  894,862, 898,852, 902,866, 906,858, 910,870, 914,862, 918,874, 922,868, 926,878, 929,872, 752,740, 772,752, 792,766, 812,780,
  832,794, 852,808, 872,822, 892,836, 762,745, 782,757, 802,772, 822,786, 842,800, 862,815, 882,829, 902,845,
  690,790, 694,775, 697,802, 700,768, 703,790, 706,812, 708,780, 711,800, 714,770, 716,815, 719,790, 722,805, 724,775, 727,820,
  729,795, 732,810, 734,778, 737,825, 739,800, 741,785, 744,818, 746,805, 748,795, 685,770, 682,795, 679,760, 676,785, 673,768,
  696,758, 712,760, 728,765, 718,748, 705,745, 733,792, 725,812, 700,825, 710,830, 690,810,
  705,757, 709,748, 713,763, 716,741, 720,752, 723,737, 727,758, 731,744, 734,751, 738,739, 741,756, 744,745, 748,761, 751,749,
  755,758, 758,744, 761,766, 764,754, 768,772, 771,760, 774,778, 777,762, 781,783, 784,770, 787,786, 790,774, 794,789, 797,778,
  800,795, 803,781, 806,799, 810,787, 813,803, 816,791, 819,808, 823,796, 826,812, 829,800, 832,818, 836,805, 839,823, 842,810,
  845,828, 849,815, 852,831, 855,819, 858,837, 861,824, 865,841, 868,829, 871,845, 874,834, 877,851, 881,838, 884,855, 887,842,
  890,859, 893,848, 897,864, 900,852, 903,868, 906,857,
  735,828, 739,822, 743,833, 747,829, 751,842, 754,837, 758,851, 762,846, 766,858, 770,854, 773,866, 777,861, 781,873, 785,869,
  788,881, 792,877, 796,890, 800,885, 804,897, 808,892, 812,905, 816,898, 820,911, 824,906, 828,918, 832,913, 836,925, 840,920,
  844,931, 848,926, 852,937, 856,932, 860,943, 864,938, 868,949, 872,944, 876,953, 880,947, 884,955, 888,949, 892,952, 896,945,
  900,949, 904,941, 908,944, 912,934, 916,936, 920,927, 924,928, 928,918,
  695,780, 698,795, 702,772, 704,805, 707,788, 710,776, 713,797, 717,783, 720,808, 722,770, 726,800, 729,786, 732,815, 735,770,
  690,798, 686,784, 683,806, 680,776, 677,792, 674,778, 670,790, 667,760, 663,775, 698,762, 708,818, 716,826, 728,830,
  737,826, 741,826, 744,835, 748,834, 752,845, 755,842, 759,853, 763,851, 767,860, 771,859, 774,868, 778,865, 782,876, 786,873,
  789,882, 793,881, 797,889, 801,889, 804,897, 808,895, 812,903, 816,901, 819,909, 823,907, 827,915, 831,913, 834,921, 838,919,
  842,928, 846,925, 849,933, 853,932, 857,937, 861,936, 865,941, 869,939, 873,944, 877,942, 881,946, 885,944, 889,945, 893,941,
  897,941, 901,935, 905,935, 909,929, 913,928, 917,921, 921,920, 925,915, 929,913,
  737,760, 741,757, 744,764, 748,761, 752,768, 755,764, 759,772, 763,768, 767,777, 771,773, 774,782, 778,778, 782,787, 786,783,
  789,792, 793,788, 797,797, 801,793, 804,802, 808,797, 812,807, 816,802, 819,812, 823,807, 827,817, 831,812, 834,822, 838,817,
  842,827, 846,822, 849,833, 853,827, 857,838, 861,832, 865,843, 869,838, 873,848, 877,843, 881,854, 885,849, 889,859, 893,854,
  897,865, 901,860, 905,871, 909,866, 913,877, 917,872, 921,882, 925,878, 929,887,
  702,778, 706,770, 709,790, 714,766, 718,800, 722,764, 726,806, 730,762, 734,815,
];

// Solid core of the diamond cloud (envelope)
const CORE_X = [724, 732, 740, 755, 775, 795, 815, 835, 855, 870, 885, 900, 915, 929];
const CORE_TOP = [784, 805, 824, 842, 862, 881, 899, 916, 930, 938, 942, 936, 923, 913];
const CORE_BOTTOM = [780, 768, 763, 768, 780, 792, 805, 818, 832, 843, 855, 866, 879, 887];

const SERIES = [
  { name: "Kimberlite", color: "#a5a5a5", data: KIMBERLITE },
  { name: "Serpertanised Olivine", color: "#ffc000", data: OLIVINE },
  { name: "Ilmenite", color: "#5b9bd5", data: ILMENITE },
  { name: "Garnets", color: "#70ad47", data: GARNETS },
  { name: "Clinopyroxenes", color: "#264478", data: CLINOPYROXENES },
  { name: "Mica Flakes", color: "#9e480e", data: MICA_FLAKES },
  { name: "Mica Schist", color: "#636363", data: MICA_SCHIST },
  { name: "Mudstone", color: "#ed7d31", data: MUDSTONE },
];
const DIAMOND_SERIES = { name: "Diamonds", color: "#7030a0", data: DIAMONDS };

const AXIS = "#4472c4";
const GRID = "#d9d9d9";
const LABEL = "#595959";
const R = 7;

interface Layout {
  frame: [number, number, number, number];
  x0: number;
  x1: number;
  yBottom: number;
  yTop: number;
  yMax: number;
  axisTop: number;
  title: [number, number];
  xLabelY: number;
  xTitle: [number, number];
  yTitle: [number, number];
  legend: { mx: number; tx: number; y0: number; dy: number; box: [number, number, number, number] };
}

const TOP: Layout = {
  frame: [147, 34, 3605, 1731],
  x0: 306, x1: 3056, yBottom: 1601, yTop: 157, yMax: 1023.5, axisTop: 164,
  title: [1876, 88], xLabelY: 1672, xTitle: [1679, 1824], yTitle: [104, 834],
  legend: { mx: 2997, tx: 3046, y0: 662, dy: 94, box: [2926, 614, 3590, 1487] },
};

const BOTTOM: Layout = {
  frame: [137, 1987, 3610, 3668],
  x0: 290, x1: 3054, yBottom: 3561, yTop: 2107, yMax: 1025, axisTop: 2111,
  title: [1871, 2034], xLabelY: 3625, xTitle: [1662, 3767], yTitle: [84, 2788],
  legend: { mx: 3011, tx: 3059, y0: 2585, dy: 92.3, box: [2933, 2548, 3595, 3460] },
};

const pairs = (flat: number[]) =>
  d3.range(0, flat.length - 1, 2).map((i) => [flat[i], flat[i + 1]] as [number, number]);

type Series = { name: string; color: string; data: number[] };

function Chart({ L, series, id }: { L: Layout; series: Series[]; id: string }) {
  const x = d3.scaleLinear().domain([415, 930]).range([L.x0, L.x1]);
  const y = d3.scaleLinear().domain([545, L.yMax]).range([L.yBottom, L.yTop]);

  const curvePath = d3
    .line<number>()
    .x((d) => x(d))
    .y((_, i) => y(CURVE_Y[i]))
    .curve(d3.curveMonotoneX)(CURVE_X);

  const corePath = d3
    .area<number>()
    .x((d) => x(d))
    .y0((_, i) => y(CORE_BOTTOM[i]))
    .y1((_, i) => y(CORE_TOP[i]))
    .curve(d3.curveCatmullRom)(CORE_X);

  const [fx0, fy0, fx1, fy1] = L.frame;
  const [bx0, by0, bx1, by1] = L.legend.box;
  const lastY = L.legend.y0 + series.length * L.legend.dy;

  return (
    <g>
      <rect x={fx0} y={fy0} width={fx1 - fx0} height={fy1 - fy0} fill="#fff" stroke={GRID} strokeWidth={3} />
      <text x={L.title[0]} y={L.title[1]} textAnchor="middle" dominantBaseline="central"
        fontFamily="Open Sans" fontSize={52} fill={LABEL}>XRT Pixel Distribution Graph</text>

      <defs>
        <clipPath id={`clip-${id}`}>
          <rect x={L.x0} y={L.yTop - 10} width={L.x1 - L.x0 + 6} height={L.yBottom - L.yTop + 10} />
        </clipPath>
      </defs>

      {/* gridlines */}
      {Y_GRID.map((v) => (
        <line key={`gy${v}`} x1={L.x0} x2={L.x1} y1={y(v)} y2={y(v)} stroke={GRID} strokeWidth={2.5} />
      ))}
      {X_GRID.map((v) => (
        <line key={`gx${v}`} x1={x(v)} x2={x(v)} y1={L.yTop} y2={L.yBottom} stroke={GRID} strokeWidth={2.5} />
      ))}

      {/* points */}
      <g clipPath={`url(#clip-${id})`}>
        {series.map((s) => (
          <g key={s.name} fill={s.color}>
            {s.name === "Diamonds" && corePath && <path d={corePath} fill={s.color} />}
            {pairs(s.data).map(([a, b], i) => (
              <circle key={i} cx={x(a)} cy={y(b)} r={R} />
            ))}
          </g>
        ))}
        <path d={curvePath ?? ""} fill="none" stroke="#000" strokeWidth={9} />
      </g>

      {/* axes */}
      <line x1={L.x0} x2={L.x0} y1={L.axisTop} y2={L.yBottom + 4} stroke={AXIS} strokeWidth={9} />
      <line x1={L.x0 - 4} x2={L.x1} y1={L.yBottom} y2={L.yBottom} stroke={AXIS} strokeWidth={9} />
      {Y_TICKS.filter((v) => v > 545).map((v) => (
        <line key={`ty${v}`} x1={L.x0} x2={L.x0 + 47} y1={y(v)} y2={y(v)} stroke={AXIS} strokeWidth={8} />
      ))}
      {X_TICKS.filter((v) => v > 415).map((v) => (
        <line key={`tx${v}`} x1={x(v)} x2={x(v)} y1={L.yBottom} y2={L.yBottom - 40} stroke={AXIS} strokeWidth={8} />
      ))}
      {Y_TICKS.map((v) => (
        <text key={`ly${v}`} x={L.x0 - 27} y={y(v)} textAnchor="end" dominantBaseline="central"
          fontFamily="Lato" fontSize={62} fill="#000">{v}</text>
      ))}
      {X_TICKS.map((v) => (
        <text key={`lx${v}`} x={x(v)} y={L.xLabelY} textAnchor="middle" dominantBaseline="central"
          fontFamily="Lato" fontSize={62} fill="#000">{v}</text>
      ))}

      {/* legend */}
      <rect x={bx0} y={by0} width={bx1 - bx0} height={by1 - by0} fill="#fff" />
      {series.map((s, i) => (
        <g key={`lg${s.name}`}>
          <circle cx={L.legend.mx} cy={L.legend.y0 + i * L.legend.dy} r={7} fill={s.color} />
          <text x={L.legend.tx} y={L.legend.y0 + i * L.legend.dy} dominantBaseline="central"
            fontFamily="Open Sans" fontSize={52} fill={LABEL}>{s.name}</text>
        </g>
      ))}
      <line x1={L.legend.mx - 37} x2={L.legend.mx + 38} y1={lastY} y2={lastY} stroke="#000" strokeWidth={7} />
      <text x={L.legend.tx} y={lastY} dominantBaseline="central"
        fontFamily="Open Sans" fontSize={52} fill={LABEL}>Classification Curve</text>

      {/* axis titles */}
      <text x={L.xTitle[0]} y={L.xTitle[1]} textAnchor="middle" fontFamily="Lato" fontSize={76} fill="#000">
        Low Energy Value
      </text>
      <text transform={`translate(${L.yTitle[0]},${L.yTitle[1]}) rotate(-90)`} textAnchor="middle"
        fontFamily="Lato" fontSize={75} fill="#000">High Energy Value</text>
    </g>
  );
}

export default function App() {
  return (
    <svg width={3639} height={3825} viewBox="0 0 3639 3825"
      style={{ position: "absolute", left: 0, top: 0, background: "#fff" }}>
      <rect width={3639} height={3825} fill="#fff" />
      <Chart L={TOP} series={SERIES} id="top" />
      <Chart L={BOTTOM} series={[...SERIES, DIAMOND_SERIES]} id="bottom" />
    </svg>
  );
}
